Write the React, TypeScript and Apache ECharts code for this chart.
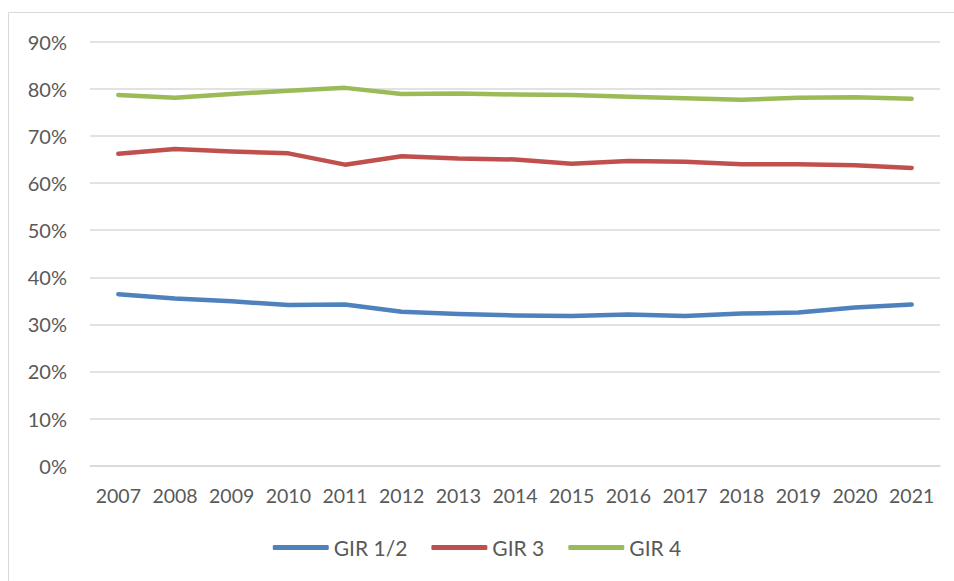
import React, { useEffect, useRef } from "react";
import * as echarts from "echarts";

const years = ["2007","2008","2009","2010","2011","2012","2013","2014","2015","2016","2017","2018","2019","2020","2021"];
const gir12 = [36.4, 35.5, 34.9, 34.1, 34.2, 32.7, 32.2, 31.9, 31.8, 32.1, 31.8, 32.3, 32.5, 33.6, 34.2];
const gir3 = [66.2, 67.2, 66.7, 66.3, 63.9, 65.7, 65.2, 65.0, 64.1, 64.7, 64.5, 64.0, 64.0, 63.8, 63.2];
const gir4 = [78.7, 78.1, 78.9, 79.6, 80.2, 78.9, 79.0, 78.8, 78.7, 78.3, 78.0, 77.7, 78.1, 78.2, 77.9];
const seriesNames = ["GIR 1/2", "GIR 3", "GIR 4"];
const colors = ["#4F81BD", "#C0504D", "#9BBB59"];

const FONT = "Lato, 'Open Sans', sans-serif";

export default function App() {
  const ref = useRef<HTMLDivElement>(null);
  useEffect(() => {
    if (!ref.current) return;
    const chart = echarts.init(ref.current, null, { renderer: "svg" });
    const data = [gir12, gir3, gir4];
    chart.setOption({
      animation: false,
      backgroundColor: "#ffffff",
      graphic: [
        {
          type: "rect",
          shape: { x: 8.5, y: 12.5, width: 980, height: 600 },
          style: { fill: "none", stroke: "#d9d9d9", lineWidth: 1 },
          silent: true,
          z: -10,
        },
      ],
      grid: { left: 90, right: 14, top: 41.7, bottom: 115.3, containLabel: false },
      legend: {
        bottom: 18,
        left: "center",
        icon: "roundRect",
        itemWidth: 56,
        itemHeight: 5,
        itemGap: 24,
        textStyle: { fontFamily: FONT, fontSize: 21, color: "#595959" },
        data: seriesNames,
      },
      xAxis: {
        type: "category",
        data: years,
        boundaryGap: true,
        axisLine: { show: true, lineStyle: { color: "#d9d9d9", width: 1.5 } },
        axisTick: { show: false },
        axisLabel: { fontFamily: FONT, fontSize: 19.5, color: "#595959", margin: 20, interval: 0 },
      },
      yAxis: {
        type: "value",
        min: 0,
        max: 90,
        interval: 10,
        axisLine: { show: false },
        axisTick: { show: false },
        splitLine: { lineStyle: { color: "#d9d9d9", width: 1.5 } },
        axisLabel: { formatter: "{value}%", fontFamily: FONT, fontSize: 20, color: "#595959", margin: 23 },
      },
      series: seriesNames.map((name, i) => ({
        name,
        type: "line",
        data: data[i],
        showSymbol: false,
        symbol: "none",
        color: colors[i],
        lineStyle: { width: 4.5, color: colors[i], cap: "round", join: "round" },
      })),
    });
    return () => chart.dispose();
  }, []);
  return (
    <div
      ref={ref}
      style={{ position: "absolute", left: 0, top: 0, width: 954, height: 581 }}
    />
  );
}
